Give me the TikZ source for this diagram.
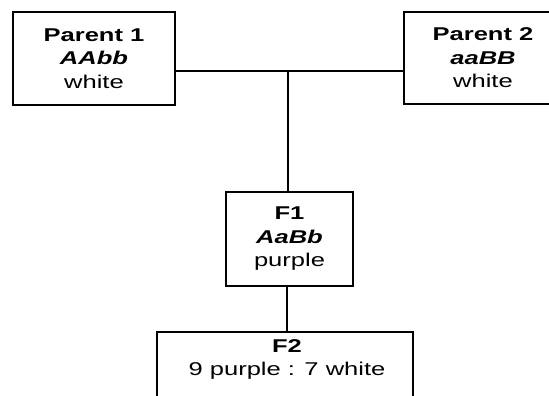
\documentclass[tikz,border=0pt]{standalone}
\usepackage{fontspec}
\setmainfont{Liberation Sans}[FakeStretch=1.38]
\begin{document}
\begin{tikzpicture}[x=1pt,y=-1pt,
  txt/.style={font=\fontsize{18.5}{23.5}\selectfont,align=center},
  box/.style={txt,draw,line width=1.6pt,rectangle,inner sep=0pt},
  wire/.style={line width=1.6pt}]
\useasboundingbox (0,0) rectangle (549,396);
\clip (0,0) rectangle (549,396);
\node[box,minimum width=162pt,minimum height=93pt] (p1) at (94,58.5)
  {\textbf{Parent 1}\\\textbf{\textit{AAbb}}\\white};
\node[box,minimum width=158pt,minimum height=92pt] (p2) at (483,58)
  {\textbf{Parent 2}\\\textbf{\textit{aaBB}}\\white};
\node[box,minimum width=127pt,minimum height=94pt] (f1) at (289.5,239)
  {\textbf{F1}\\\textbf{\textit{AaBb}}\\purple};
\node[box,minimum width=256pt,minimum height=88pt] (f2) at (285,376) {};
\node[txt,anchor=north,inner sep=0pt] (f2t) at (287,339)
  {\textbf{F2}\\9 purple : 7 white};
\coordinate (j) at (288,71);
\draw[wire] (j -| p1.east) -- (j -| p2.west);
\draw[wire] (j) -- (j |- f1.north);
\draw[wire] (f1.south -| 287,0) -- (f2.north -| 287,0);
\end{tikzpicture}
\end{document}
